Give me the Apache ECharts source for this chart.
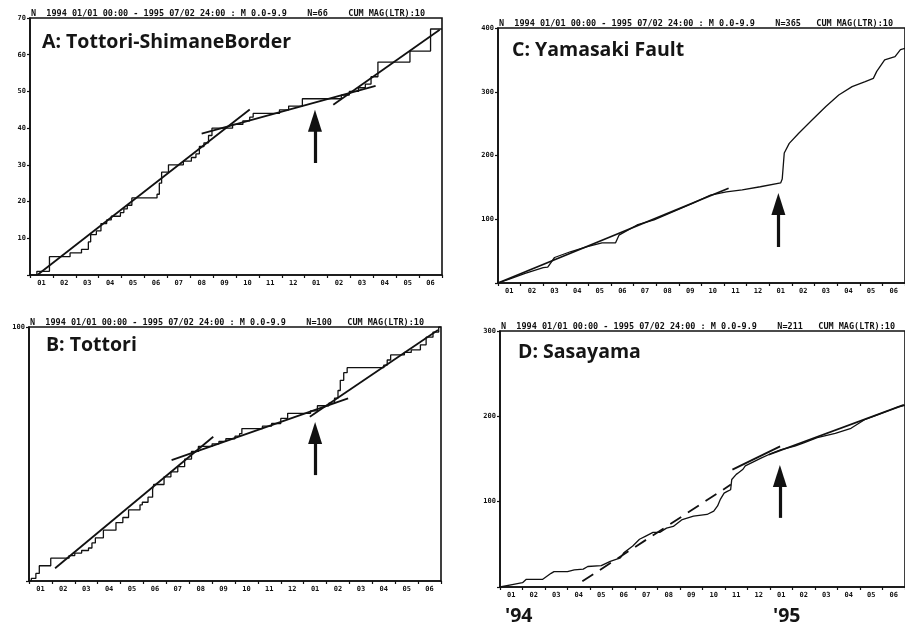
<!DOCTYPE html>
<html><head><meta charset="utf-8">
<script src="https://cdn.jsdelivr.net/npm/echarts@6/dist/echarts.min.js"></script>
<style>html,body{margin:0;padding:0;background:#fff}#c{width:905px;height:628px}</style>
</head><body><div id="c"></div>
<script>
// ---- Data (x = months since 1994-01-01, y = cumulative number of events) ----
const monthLabels = ['01','02','03','04','05','06','07','08','09','10','11','12','01','02','03','04','05','06'];
const panelTitles = ['A: Tottori-ShimaneBorder', 'B: Tottori', 'C: Yamasaki Fault', 'D: Sasayama'];
const headerTexts = [
  'N  1994 01/01 00:00 - 1995 07/02 24:00 : M 0.0-9.9    N=66    CUM MAG(LTR):10',
  'N  1994 01/01 00:00 - 1995 07/02 24:00 : M 0.0-9.9    N=100   CUM MAG(LTR):10',
  'N  1994 01/01 00:00 - 1995 07/02 24:00 : M 0.0-9.9    N=365   CUM MAG(LTR):10',
  'N  1994 01/01 00:00 - 1995 07/02 24:00 : M 0.0-9.9    N=211   CUM MAG(LTR):10'
];
const yearLabels = ["'94", "'95"];
const yMax = [70, 100, 400, 300];
const yInterval = [10, 100, 100, 100];

const aSteps = [[0,0],[0.3,1],[0.85,5],[1.75,6],[2.25,7],[2.55,9],[2.65,11],[2.9,12],[3.1,14],[3.35,15],[3.55,16],[3.95,17],[4.1,18],[4.25,19],[4.45,21],[5.55,22],[5.65,25],[5.75,28],[6.05,30],[6.7,31],[7.05,32],[7.25,33],[7.4,35],[7.6,36],[7.8,38],[7.95,40],[8.85,41],[9.3,42],[9.6,43],[9.75,44],[10.9,45],[11.3,46],[11.9,48],[13.6,49],[13.95,50],[14.35,51],[14.65,52],[14.9,54],[15.2,58],[16.6,61],[17.5,67],[18,67]];
const aFit1 = [[0.32,0],[9.6,45.1]];
const aFit2 = [[7.5,38.5],[15.1,51.5]];
const aFit3 = [[13.25,46.4],[17.9,66.8]];

const bSteps = [[0,0],[0.1,1],[0.3,3],[0.45,6],[0.95,9],[1.75,10],[2.0,11],[2.3,12],[2.6,13],[2.75,15],[2.9,17],[3.25,20],[3.8,23],[4.1,25],[4.35,28],[4.85,30],[4.95,31],[5.2,33],[5.4,36],[5.45,38],[5.9,41],[6.2,43],[6.5,45],[6.8,48],[7.1,51],[7.4,53],[8.0,54],[8.3,55],[8.6,56],[9.0,57],[9.2,58],[9.3,60],[10.2,61],[10.6,62],[11.0,64],[11.3,66],[12.3,67],[12.6,69],[13.1,70],[13.35,72],[13.5,75],[13.6,79],[13.75,82],[13.9,84],[15.5,85],[15.65,87],[15.8,89],[16.4,90],[16.7,91],[17.1,93],[17.35,96],[17.65,98],[17.9,100],[18,100]];
const bFit1 = [[1.14,5],[8.05,56.8]];
const bFit2 = [[6.23,47.6],[13.94,71.9]];
const bFit3 = [[12.27,64.7],[17.87,98.8]];

const cCurve = [[0,0],[0.5,6],[1.2,15],[2.0,24],[2.2,25],[2.5,40],[3.2,49],[3.95,57],[4.6,63],[5.2,63],[5.35,75],[6.15,91],[6.9,99],[7.75,112],[8.6,125],[9.4,138],[10.1,143],[10.8,146],[11.6,151],[12.5,157],[12.57,163],[12.66,204],[12.88,219],[13.3,235],[13.9,256],[14.5,277],[15.07,295],[15.66,308],[16.24,316],[16.6,321],[16.75,332],[17.1,350],[17.56,355],[17.8,366],[18,368]];
const cFit1 = [[0,0],[10.2,148.6]];

const dCurve = [[0,0],[0.6,3],[1.0,5],[1.17,9],[1.9,9],[2.27,16],[2.4,18],[3.0,18],[3.3,20],[3.7,21],[3.9,24],[4.5,25],[4.9,30],[5.35,34],[5.5,40],[5.9,48],[6.2,56],[6.5,60],[6.8,64],[7.1,64],[7.4,69],[7.7,71],[8.1,79],[8.6,83],[9.2,85],[9.5,89],[9.67,95],[9.8,103],[9.96,110],[10.1,112],[10.25,114],[10.3,126],[10.5,132],[10.6,134],[10.8,138],[10.9,142],[11.6,151],[12.1,157],[12.5,161],[13.1,165],[13.5,169],[14.1,175],[14.9,180],[15.6,186],[16.2,196],[16.8,202],[17.4,208],[17.7,211],[18,213]];
const dFitDash = [[3.66,6.6],[10.26,120]];
const dFitPre = [[10.33,137.5],[12.45,164.8]];
const dFitPost = [[11.94,155],[17.95,213.5]];

// arrows: [month, tail value, head value]
const arrowA = [12.45, 30.5, 42];
const arrowB = [12.5, 41.7, 58.3];
const arrowC = [12.4, 56.5, 124];
const arrowD = [12.44, 81, 130];

// ---- Layout ----
const grids = [
  {left:30, top:18, width:412, height:257},
  {left:29, top:327, width:412, height:254},
  {left:498, top:28, width:411, height:255},
  {left:500, top:331, width:409, height:256}
];
const titlePos = [[42,32],[46,335],[512,40],[518,342]];
const yearPos = [[505,606],[773,606]];

const ink = '#111';
const xAxes = [], yAxes = [];
grids.forEach((g, i) => {
  xAxes.push({type:'value', gridIndex:i, min:0, max:18, interval:1,
    axisLine:{show:true, onZero:false, lineStyle:{color:ink, width:1.6}},
    axisTick:{show:true, length:3, lineStyle:{color:ink, width:1.2}},
    axisLabel:{show:false}, splitLine:{show:false}});
  xAxes.push({type:'category', gridIndex:i, data:monthLabels, boundaryGap:true, position:'bottom',
    axisLine:{show:false}, axisTick:{show:false},
    axisLabel:{interval:0, fontSize:7, fontWeight:'bold', color:ink, margin:5, fontFamily:'DejaVu Sans Mono'}});
  yAxes.push({type:'value', gridIndex:i, min:0, max:yMax[i], interval:yInterval[i],
    axisLine:{show:true, lineStyle:{color:ink, width:1.6}},
    axisTick:{show:true, length:3, lineStyle:{color:ink, width:1.2}},
    axisLabel:{fontSize:7, fontWeight:'bold', color:ink, margin:4, fontFamily:'DejaVu Sans Mono',
      formatter: v => v === 0 ? '' : String(v)},
    splitLine:{show:false}});
});

function curve(i, data, step, arrow) {
  return {type:'line', xAxisIndex:2*i, yAxisIndex:i, data:data, step:step, showSymbol:false, symbol:'none',
    lineStyle:{color:ink, width:1.3}, silent:true, z:3,
    markLine: {silent:true, symbol:['none','triangle'], symbolSize:[14,22], label:{show:false},
      lineStyle:{color:ink, width:3.2, type:'solid'}, animation:false,
      data:[[{coord:[arrow[0], arrow[1]]}, {coord:[arrow[0], arrow[2]]}]]}};
}
function fit(i, data, dashed) {
  return {type:'line', xAxisIndex:2*i, yAxisIndex:i, data:data, showSymbol:false, symbol:'none',
    lineStyle:{color:ink, width:1.8, type: dashed ? [13,8] : 'solid'}, silent:true, z:4};
}

const series = [
  curve(0, aSteps, 'end', arrowA), fit(0, aFit1), fit(0, aFit2), fit(0, aFit3),
  curve(1, bSteps, 'end', arrowB), fit(1, bFit1), fit(1, bFit2), fit(1, bFit3),
  curve(2, cCurve, false, arrowC), fit(2, cFit1),
  curve(3, dCurve, false, arrowD), fit(3, dFitDash, true), fit(3, dFitPre), fit(3, dFitPost)
];

const bigText = {fontFamily:'Open Sans', fontWeight:'bold', fontSize:19.5, color:'#151515'};
const titles = [];
panelTitles.forEach((t, i) => titles.push({text:t, left:titlePos[i][0], top:titlePos[i][1], padding:0, textStyle:bigText}));
headerTexts.forEach((t, i) => titles.push({text:t, left:grids[i].left + 1, top:grids[i].top - 9, padding:0,
  textStyle:{fontFamily:'DejaVu Sans Mono', fontWeight:'bold', fontSize:8.5, color:ink}}));
yearLabels.forEach((t, i) => titles.push({text:t, left:yearPos[i][0], top:yearPos[i][1], padding:0, textStyle:bigText}));

const chart = echarts.init(document.getElementById('c'), null, {renderer:'canvas'});
chart.setOption({
  animation:false,
  backgroundColor:'#fff',
  title: titles,
  grid: grids.map(g => Object.assign({show:true, borderColor:ink, borderWidth:1.6, containLabel:false}, g)),
  xAxis: xAxes,
  yAxis: yAxes,
  series: series
});
</script></body></html>
